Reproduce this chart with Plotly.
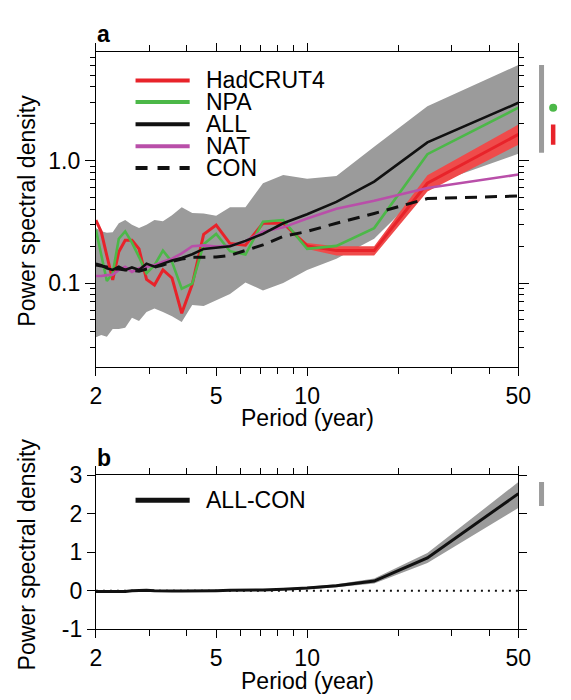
import plotly.graph_objects as go

# ---------------- data ----------------
period = [2.0, 2.083, 2.174, 2.273, 2.381, 2.5, 2.632, 2.778, 2.941, 3.125, 3.333, 3.571,
          3.846, 4.167, 4.545, 5.0, 5.556, 6.25, 7.143, 8.333, 10.0, 12.5, 16.667, 25.0, 50.0]

hadcrut4 = [0.327, 0.262, 0.167, 0.106, 0.180, 0.224, 0.224, 0.190, 0.107, 0.0964, 0.128, 0.110,
            0.0566, 0.0975, 0.250, 0.298, 0.210, 0.204, 0.308, 0.308, 0.201, 0.184, 0.184, 0.654, 1.64]
npa = [0.272, 0.170, 0.104, 0.120, 0.230, 0.264, 0.214, 0.163, 0.120, 0.140, 0.184, 0.149,
       0.090, 0.099, 0.207, 0.252, 0.182, 0.171, 0.317, 0.327, 0.190, 0.201, 0.281, 1.13, 2.71]
all_forc = [0.144, 0.140, 0.132, 0.128, 0.136, 0.128, 0.134, 0.128, 0.144, 0.136, 0.144, 0.153,
            0.160, 0.172, 0.190, 0.196, 0.200, 0.221, 0.252, 0.308, 0.365, 0.460, 0.675, 1.41, 2.97]
nat = [0.114, 0.114, 0.116, 0.117, 0.128, 0.136, 0.123, 0.132, 0.136, 0.140, 0.149, 0.158,
       0.175, 0.200, 0.203, 0.199, 0.201, 0.220, 0.262, 0.285, 0.337, 0.404, 0.470, 0.598, 0.770]
con = [0.140, 0.138, 0.135, 0.130, 0.130, 0.128, 0.127, 0.125, 0.130, 0.134, 0.140, 0.150,
       0.157, 0.162, 0.163, 0.163, 0.168, 0.185, 0.205, 0.240, 0.264, 0.308, 0.370, 0.490, 0.514]

all_hi = [0.281, 0.265, 0.257, 0.260, 0.308, 0.327, 0.300, 0.281, 0.300, 0.327, 0.320, 0.358,
          0.416, 0.373, 0.370, 0.354, 0.416, 0.416, 0.654, 0.762, 0.710, 0.750, 1.30, 2.79, 6.05]
all_lo = [0.036, 0.0376, 0.0364, 0.042, 0.042, 0.043, 0.052, 0.049, 0.058, 0.062, 0.058, 0.0535,
          0.048, 0.066, 0.065, 0.072, 0.0815, 0.101, 0.087, 0.100, 0.128, 0.158, 0.230, 0.62, 1.14]

had_period = [8.333, 10.0, 12.5, 16.667, 25.0, 50.0]
had_hi = [0.308, 0.212, 0.200, 0.200, 0.760, 1.97]
had_lo = [0.308, 0.190, 0.168, 0.168, 0.560, 1.35]

all_con = [-0.02, -0.02, -0.02, -0.02, -0.02, -0.02, 0.0, 0.01, 0.01, 0.0, -0.01, -0.01,
           -0.01, -0.01, 0.0, 0.0, 0.01, 0.01, 0.02, 0.04, 0.07, 0.13, 0.25, 0.85, 2.52]
all_con_hi = [0.0, 0.0, 0.0, 0.0, 0.0, 0.0, 0.02, 0.03, 0.03, 0.02, 0.01, 0.01,
              0.01, 0.01, 0.02, 0.02, 0.03, 0.03, 0.04, 0.06, 0.10, 0.17, 0.32, 0.98, 2.82]
all_con_lo = [-0.04, -0.04, -0.04, -0.04, -0.04, -0.04, -0.02, -0.01, -0.01, -0.02, -0.03, -0.03,
              -0.03, -0.03, -0.02, -0.02, -0.01, -0.01, 0.0, 0.02, 0.04, 0.09, 0.19, 0.72, 2.15]

# side markers (ranges at 50-year period)
side_all = [1.16, 6.05]
side_npa = [2.71]
side_had = [1.35, 1.97]
side_diff = [2.2, 2.82]

names_a = ["HadCRUT4", "NPA", "ALL", "NAT", "CON"]
names_b = ["ALL-CON"]
x_ticks = [2, 5, 10, 50]
x_minor = [3, 4, 6, 7, 8, 9, 20, 30, 40]
ya_ticks = [0.1, 1.0]
ya_ticktext = ["0.1", "1.0"]
ya_minor = [0.03, 0.04, 0.05, 0.06, 0.07, 0.08, 0.09, 0.2, 0.3, 0.4, 0.5, 0.6, 0.7, 0.8, 0.9,
            2, 3, 4, 5, 6, 7]
yb_ticks = [-1, 0, 1, 2, 3]

# ---------------- styles ----------------
W, H = 571, 700
FONT = "Liberation Sans, Arial, Helvetica, sans-serif"
GRAY = "#9b9b9b"
RED = "#e8232a"
REDBAND = "#ef4b4b"
GREEN = "#4cb848"
MAG = "#b94fa9"
BLACK = "#111111"

def px(x):
    return x / W

def py(y):
    return 1 - y / H

XL, XR = 93, 530
A_TOP, A_BOT = 41, 368
B_TOP, B_BOT = 480, 640

fig = go.Figure()

# panel a: ALL spread
fig.add_trace(go.Scatter(x=period, y=all_lo, mode="lines", line=dict(width=0, color=GRAY),
                         showlegend=False, hoverinfo="skip", xaxis="x", yaxis="y"))
fig.add_trace(go.Scatter(x=period, y=all_hi, mode="lines", line=dict(width=0, color=GRAY),
                         fill="tonexty", fillcolor=GRAY, showlegend=False, xaxis="x", yaxis="y"))
# HadCRUT4 band
fig.add_trace(go.Scatter(x=had_period, y=had_lo, mode="lines", line=dict(width=0, color=REDBAND),
                         showlegend=False, xaxis="x", yaxis="y"))
fig.add_trace(go.Scatter(x=had_period, y=had_hi, mode="lines", line=dict(width=0, color=REDBAND),
                         fill="tonexty", fillcolor=REDBAND, showlegend=False, xaxis="x", yaxis="y"))
# lines
fig.add_trace(go.Scatter(x=period, y=hadcrut4, mode="lines", line=dict(width=3, color=RED),
                         name=names_a[0], xaxis="x", yaxis="y"))
fig.add_trace(go.Scatter(x=period, y=npa, mode="lines", line=dict(width=2.6, color=GREEN),
                         name=names_a[1], xaxis="x", yaxis="y"))
fig.add_trace(go.Scatter(x=period, y=nat, mode="lines", line=dict(width=2.6, color=MAG),
                         name=names_a[3], xaxis="x", yaxis="y"))
fig.add_trace(go.Scatter(x=period, y=con, mode="lines", line=dict(width=3, color=BLACK, dash="12px,8px"),
                         name=names_a[4], xaxis="x", yaxis="y"))
fig.add_trace(go.Scatter(x=period, y=all_forc, mode="lines", line=dict(width=2.6, color=BLACK),
                         name=names_a[2], xaxis="x", yaxis="y"))

# side markers panel a
fig.add_trace(go.Scatter(x=[11.5, 11.5], y=side_all, mode="lines", line=dict(width=5, color=GRAY),
                         showlegend=False, xaxis="x3", yaxis="y"))
fig.add_trace(go.Scatter(x=[23.5, 23.5], y=side_had, mode="lines", line=dict(width=4.5, color=RED),
                         showlegend=False, xaxis="x3", yaxis="y"))
fig.add_trace(go.Scatter(x=[23.5], y=side_npa, mode="markers", marker=dict(size=8, color=GREEN),
                         showlegend=False, xaxis="x3", yaxis="y"))

# panel b
fig.add_trace(go.Scatter(x=period, y=all_con_lo, mode="lines", line=dict(width=0, color=GRAY),
                         showlegend=False, xaxis="x2", yaxis="y2"))
fig.add_trace(go.Scatter(x=period, y=all_con_hi, mode="lines", line=dict(width=0, color=GRAY),
                         fill="tonexty", fillcolor=GRAY, showlegend=False, xaxis="x2", yaxis="y2"))
fig.add_trace(go.Scatter(x=[period[0], period[-1]], y=[0, 0], mode="lines",
                         line=dict(width=2, color=BLACK, dash="2px,5px"),
                         showlegend=False, xaxis="x2", yaxis="y2"))
fig.add_trace(go.Scatter(x=period, y=all_con, mode="lines", line=dict(width=3, color=BLACK),
                         name=names_b[0], xaxis="x2", yaxis="y2"))
fig.add_trace(go.Scatter(x=[11.5, 11.5], y=side_diff, mode="lines", line=dict(width=5, color=GRAY),
                         showlegend=False, xaxis="x4", yaxis="y2"))

tickfont = dict(family=FONT, size=23, color="black")

def xaxis_common(anchor):
    return dict(
        domain=[px(XL), px(XR)], type="log", range=[0.30103, 1.69897], anchor=anchor,
        tickmode="array", tickvals=x_ticks, ticktext=[str(v) for v in x_ticks],
        ticks="outside", ticklen=8, tickwidth=1, tickcolor="black",
        minor=dict(tickmode="array", tickvals=x_minor, ticks="outside", ticklen=6,
                   tickwidth=1, tickcolor="black", showgrid=False),
        showline=True, linecolor="black", linewidth=1.2, mirror="ticks",
        showgrid=False, zeroline=False, tickfont=tickfont, ticklabelstandoff=0,
    )

fig.update_layout(
    width=W, height=H, margin=dict(l=0, r=0, t=0, b=0),
    paper_bgcolor="white", plot_bgcolor="white", showlegend=False,
    font=dict(family=FONT, size=23, color="black"),
    xaxis=xaxis_common("y"),
    xaxis2=xaxis_common("y2"),
    yaxis=dict(
        domain=[py(A_BOT), py(A_TOP)], type="log", range=[-1.689, 0.884], anchor="x",
        tickmode="array", tickvals=ya_ticks, ticktext=ya_ticktext,
        ticks="outside", ticklen=10, tickwidth=1, tickcolor="black",
        minor=dict(tickmode="array", tickvals=ya_minor, ticks="outside", ticklen=5,
                   tickwidth=1, tickcolor="black", showgrid=False),
        showline=True, linecolor="black", linewidth=1.2, mirror="ticks",
        showgrid=False, zeroline=False, tickfont=tickfont,
    ),
    yaxis2=dict(
        domain=[py(B_BOT), py(B_TOP)], range=[-1, 3], anchor="x2",
        tickmode="array", tickvals=yb_ticks, ticktext=[str(v) for v in yb_ticks],
        ticks="outside", ticklen=8, tickwidth=1, tickcolor="black",
        showline=True, linecolor="black", linewidth=1.2, mirror="ticks",
        showgrid=False, zeroline=False, tickfont=tickfont,
    ),
    xaxis3=dict(domain=[0.95, 1.0], range=[0, 28.5], anchor="y", visible=False),
    xaxis4=dict(domain=[0.95, 1.0], range=[0, 28.5], anchor="y2", visible=False),
)

# legends (drawn manually)
leg_rows = [70, 92.5, 115.5, 138.5, 161]
leg_styles = [dict(color=RED, width=4), dict(color=GREEN, width=4), dict(color=BLACK, width=4),
              dict(color=MAG, width=4), dict(color=BLACK, width=4, dash="12px,10px")]
for name, yy, st in zip(names_a, leg_rows, leg_styles):
    fig.add_shape(type="line", xref="paper", yref="paper", x0=px(134), x1=px(190),
                  y0=py(yy), y1=py(yy), line=st)
    fig.add_annotation(text=name, xref="paper", yref="paper", x=px(205), y=py(yy),
                       xanchor="left", yanchor="middle", showarrow=False,
                       font=dict(family=FONT, size=23, color="black"))
fig.add_shape(type="line", xref="paper", yref="paper", x0=px(134), x1=px(190),
              y0=py(506), y1=py(506), line=dict(color=BLACK, width=5))
fig.add_annotation(text=names_b[0], xref="paper", yref="paper", x=px(205), y=py(506),
                   xanchor="left", yanchor="middle", showarrow=False,
                   font=dict(family=FONT, size=23, color="black"))

# titles
for yy in (421, 694):
    fig.add_annotation(text="Period (year)", xref="paper", yref="paper", x=px((XL + XR) / 2),
                       y=py(yy), xanchor="center", yanchor="middle", showarrow=False,
                       font=dict(family=FONT, size=23, color="black"))
for yy in (205, 562):
    fig.add_annotation(text="Power spectral density", xref="paper", yref="paper", x=px(22),
                       y=py(yy), xanchor="center", yanchor="middle", showarrow=False, textangle=-90,
                       font=dict(family=FONT, size=23, color="black"))
for lab, yy in (("a", 22), ("b", 462)):
    fig.add_annotation(text="<b>%s</b>" % lab, xref="paper", yref="paper", x=px(101),
                       y=py(yy), xanchor="center", yanchor="middle", showarrow=False,
                       font=dict(family=FONT, size=23, color="black"))

fig.write_html("out.html")
